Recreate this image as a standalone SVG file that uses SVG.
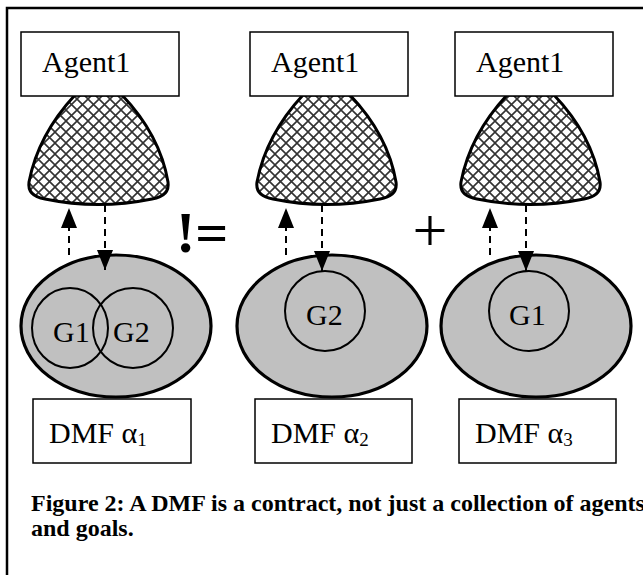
<svg xmlns="http://www.w3.org/2000/svg" width="643" height="575" viewBox="0 0 643 575">
<style>
.box{fill:#fff;stroke:#000;stroke-width:1.5}
.lbl{font-family:"Liberation Serif","Times New Roman",serif;font-size:30px;fill:#000}
.bell{fill:url(#hatch);stroke:#000;stroke-width:3;stroke-linejoin:round}
.dmf{fill:#c0c0c0;stroke:#000;stroke-width:3.2}
.goal{fill:none;stroke:#000;stroke-width:2}
.conn{stroke:#000;stroke-width:2;stroke-dasharray:7,5;fill:none}
.cap{font-family:"Liberation Serif","Times New Roman",serif;font-size:24px;font-weight:bold;fill:#000}
</style>
<defs>
<pattern id="hatch" patternUnits="userSpaceOnUse" width="11" height="11">
<rect width="11" height="11" fill="#fff"/>
<path d="M0,0L11,11M11,0L0,11" stroke="#333" stroke-width="1.6"/>
</pattern>
<marker id="ah2" viewBox="0 0 20 16" refX="20" refY="8" markerWidth="20" markerHeight="16" markerUnits="userSpaceOnUse" orient="auto">
<path d="M0,0L20,8L0,16Z" fill="#000"/>
</marker>
</defs>
<rect x="7" y="8" width="700" height="700" fill="none" stroke="#000" stroke-width="2.5"/>

<g id="panel1">
<g id="agent1a"><path class="bell" d="M75,95 Q38,135 29,182 Q27,196 45,199 Q98,210 152,199 Q170,196 168,182 Q160,135 122,95 Z"/>
<rect class="box" x="21" y="32" width="158" height="64"/><text class="lbl" x="42" y="72">Agent1</text></g>
<g id="dmf1"><ellipse class="dmf" cx="116" cy="326" rx="95" ry="71"/>
<ellipse class="goal" cx="70" cy="328" rx="38" ry="40"/><ellipse class="goal" cx="133" cy="328" rx="40" ry="40"/>
<text class="lbl" x="53" y="342" font-size="29">G1</text><text class="lbl" x="113" y="342">G2</text></g>
<g id="dmfbox1"><rect class="box" x="33" y="399" width="158" height="64"/><text class="lbl" x="49" y="443">DMF α<tspan font-size="19" dy="3">1</tspan></text></g>
</g>

<g id="panel2">
<g id="agent1b"><path class="bell" d="M303,95 Q266,135 257,182 Q255,196 273,199 Q326,210 380,199 Q398,196 396,182 Q388,135 350,95 Z"/>
<rect class="box" x="250" y="32" width="158" height="64"/><text class="lbl" x="271" y="72">Agent1</text></g>
<g id="dmf2"><ellipse class="dmf" cx="332" cy="326" rx="95" ry="71"/>
<ellipse class="goal" cx="325" cy="311" rx="40" ry="40"/><text class="lbl" x="306" y="325">G2</text></g>
<g id="dmfbox2"><rect class="box" x="255" y="399" width="157" height="64"/><text class="lbl" x="271" y="443">DMF α<tspan font-size="19" dy="3">2</tspan></text></g>
</g>

<g id="panel3">
<g id="agent1c"><path class="bell" d="M507,95 Q470,135 461,182 Q459,196 477,199 Q530,210 584,199 Q602,196 600,182 Q592,135 554,95 Z"/>
<rect class="box" x="455" y="32" width="158" height="64"/><text class="lbl" x="476" y="72">Agent1</text></g>
<g id="dmf3"><ellipse class="dmf" cx="536" cy="326" rx="95" ry="71"/>
<ellipse class="goal" cx="529" cy="311" rx="40" ry="40"/><text class="lbl" x="509" y="325">G1</text></g>
<g id="dmfbox3"><rect class="box" x="459" y="399" width="157" height="64"/><text class="lbl" x="475" y="443">DMF α<tspan font-size="19" dy="3">3</tspan></text></g>
</g>

<g id="connectors">
<line class="conn" x1="69" y1="255" x2="69" y2="208" marker-end="url(#ah2)"/>
<line class="conn" x1="105" y1="205" x2="105" y2="270" marker-end="url(#ah2)"/>
<line class="conn" x1="286" y1="255" x2="286" y2="208" marker-end="url(#ah2)"/>
<line class="conn" x1="322" y1="205" x2="322" y2="271" marker-end="url(#ah2)"/>
<line class="conn" x1="490" y1="255" x2="490" y2="208" marker-end="url(#ah2)"/>
<line class="conn" x1="526" y1="205" x2="526" y2="271" marker-end="url(#ah2)"/>
</g>

<text x="176" y="252" font-family="Liberation Serif, serif" font-weight="bold" font-size="58">!=</text>
<text x="430" y="251" text-anchor="middle" font-family="Liberation Serif, serif" font-size="62">+</text>

<text class="cap" x="31" y="511">Figure 2: A DMF is a contract, not just a collection of agents</text>
<text class="cap" x="31" y="536">and goals.</text>
</svg>
